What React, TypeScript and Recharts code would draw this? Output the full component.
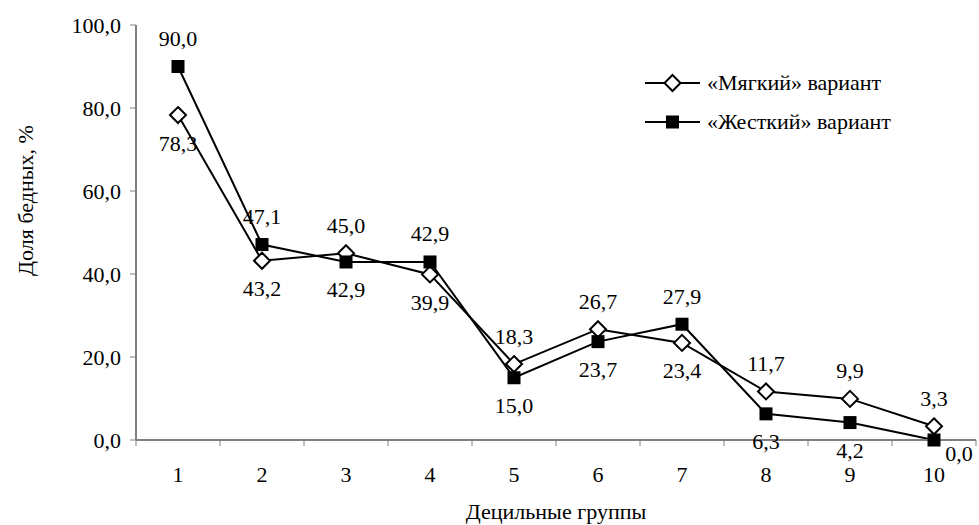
import React from 'react';
import { LineChart, Line, XAxis, YAxis, Legend, LabelList } from 'recharts';

const groups = [1, 2, 3, 4, 5, 6, 7, 8, 9, 10];
const softValues = [78.3, 43.2, 45.0, 39.9, 18.3, 26.7, 23.4, 11.7, 9.9, 3.3];
const hardValues = [90.0, 47.1, 42.9, 42.9, 15.0, 23.7, 27.9, 6.3, 4.2, 0.0];
const yTicks = [0, 20, 40, 60, 80, 100];
const xBoundaryTicks = [0.5, 1.5, 2.5, 3.5, 4.5, 5.5, 6.5, 7.5, 8.5, 9.5, 10.5];
const softName = '«Мягкий» вариант';
const hardName = '«Жесткий» вариант';
const yTitle = 'Доля бедных, %';
const xTitle = 'Децильные группы';

const data = groups.map((g, i) => ({ group: g, soft: softValues[i], hard: hardValues[i] }));
const xTicks = [...xBoundaryTicks, ...groups].sort((a, b) => a - b);

const FONT = "'Liberation Serif', 'Tinos', 'Times New Roman', 'DejaVu Serif', 'Noto Serif', 'Liberation Sans', serif";
const FS = 22;
const AXIS = '#808080';
const fmt = (v: number) => v.toFixed(1).replace('.', ',');

const Diamond = (props: any) => {
  const { cx, cy } = props;
  if (cx == null || cy == null) return null;
  const r = 8;
  return (
    <path
      d={`M${cx},${cy - r} L${cx + r},${cy} L${cx},${cy + r} L${cx - r},${cy} Z`}
      fill="#fff"
      stroke="#000"
      strokeWidth={2}
    />
  );
};

const Square = (props: any) => {
  const { cx, cy } = props;
  if (cx == null || cy == null) return null;
  const s = 13;
  return <rect x={cx - s / 2} y={cy - s / 2} width={s} height={s} fill="#000" />;
};

const makeLabel = (own: number[], other: number[]) => (props: any) => {
  const { x, y, index } = props;
  if (x == null || y == null) return null;
  const v = own[index];
  const above = v > other[index];
  const lastBelow = index === own.length - 1 && !above;
  const dx = lastBelow ? 25 : 0;
  const dy = lastBelow ? 13 : above ? -28 : 28;
  return (
    <text
      x={x + dx}
      y={y + dy}
      textAnchor="middle"
      dominantBaseline="central"
      style={{ fontFamily: FONT, fontSize: FS }}
      fill="#000"
    >
      {fmt(v)}
    </text>
  );
};

const XTick = (props: any) => {
  const { x, y, payload } = props;
  const v = payload.value;
  if (Number.isInteger(v)) {
    return (
      <text x={x} y={y + 42} textAnchor="middle" style={{ fontFamily: FONT, fontSize: FS }} fill="#000">
        {v}
      </text>
    );
  }
  return <line x1={x} y1={y} x2={x} y2={y + 6} stroke={AXIS} strokeWidth={1} />;
};

const YTitle = (props: any) => {
  const vb = props.viewBox || {};
  const cx = 25;
  const cy = (vb.y ?? 0) + (vb.height ?? 0) / 2 - 32;
  return (
    <text
      x={cx}
      y={cy}
      transform={`rotate(-90 ${cx} ${cy})`}
      textAnchor="middle"
      dominantBaseline="central"
      style={{ fontFamily: FONT, fontSize: FS }}
      fill="#000"
    >
      {yTitle}
    </text>
  );
};

const XTitle = (props: any) => {
  const vb = props.viewBox || {};
  const cx = (vb.x ?? 0) + (vb.width ?? 0) / 2;
  const cy = (vb.y ?? 0) + 79;
  return (
    <text x={cx} y={cy} textAnchor="middle" style={{ fontFamily: FONT, fontSize: FS }} fill="#000">
      {xTitle}
    </text>
  );
};

const LegendIcon = ({ kind }: { kind: 'soft' | 'hard' }) => (
  <svg width={56} height={20} style={{ display: 'block' }}>
    <line x1={0} y1={10} x2={55} y2={10} stroke="#000" strokeWidth={2} />
    {kind === 'soft' ? <Diamond cx={27.5} cy={10} /> : <Square cx={27.5} cy={10} />}
  </svg>
);

const LegendContent = () => (
  <div style={{ fontFamily: FONT, fontSize: FS, color: '#000', whiteSpace: 'nowrap' }}>
    {([['soft', softName], ['hard', hardName]] as const).map(([k, name]) => (
      <div key={k} style={{ display: 'flex', alignItems: 'center', height: 39 }}>
        <LegendIcon kind={k} />
        <span style={{ marginLeft: 6 }}>{name}</span>
      </div>
    ))}
  </div>
);

export default function App() {
  return (
    <div style={{ position: 'absolute', left: 0, top: 0, background: '#fff', fontFamily: FONT }}>
      <LineChart
        width={979}
        height={525}
        data={data}
        margin={{ top: 25, right: 3, bottom: 0, left: 0 }}
      >
        <XAxis
          dataKey="group"
          type="number"
          domain={[0.5, 10.5]}
          ticks={xTicks}
          interval={0}
          tickSize={0}
          tickMargin={0}
          tickLine={false}
          axisLine={{ stroke: AXIS, strokeWidth: 2 }}
          tick={XTick}
          height={85}
          allowDataOverflow
          label={{ content: XTitle }}
        />
        <YAxis
          type="number"
          domain={[0, 100]}
          ticks={yTicks}
          interval={0}
          width={136}
          tickSize={6}
          tickMargin={9}
          tickFormatter={fmt}
          axisLine={{ stroke: AXIS, strokeWidth: 2 }}
          tickLine={{ stroke: AXIS, strokeWidth: 1 }}
          tick={{ fill: '#000', fontSize: FS, fontFamily: FONT, style: { fontFamily: FONT } }}
          label={{ content: YTitle }}
        />
        <Legend
          layout="vertical"
          align="center"
          verticalAlign="middle"
          wrapperStyle={{ left: 645, top: 63, width: 'auto' }}
          content={LegendContent}
        />
        <Line
          dataKey="soft"
          name={softName}
          stroke="#000"
          strokeWidth={2}
          dot={Diamond}
          activeDot={false}
          isAnimationActive={false}
        >
          <LabelList dataKey="soft" content={makeLabel(softValues, hardValues)} />
        </Line>
        <Line
          dataKey="hard"
          name={hardName}
          stroke="#000"
          strokeWidth={2}
          dot={Square}
          activeDot={false}
          isAnimationActive={false}
        >
          <LabelList dataKey="hard" content={makeLabel(hardValues, softValues)} />
        </Line>
      </LineChart>
    </div>
  );
}
